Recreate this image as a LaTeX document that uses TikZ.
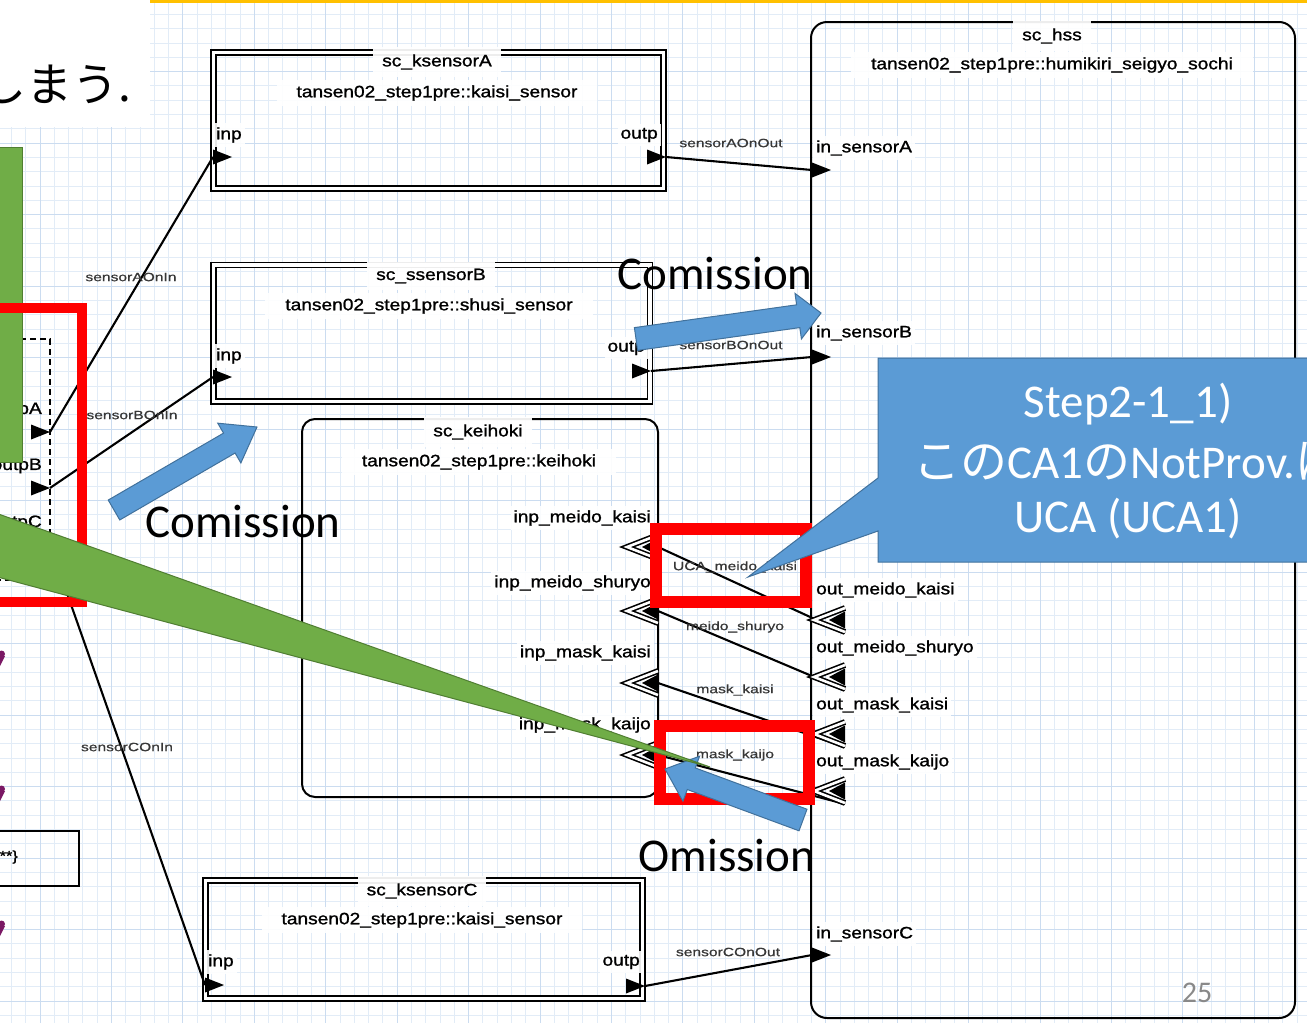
\documentclass[tikz,border=0pt]{standalone}
\usepackage{fontspec}
\setmainfont{Liberation Sans}
\newfontfamily\lblfont[FakeStretch=1.16,FakeBold=1.2]{Liberation Sans}
\newfontfamily\linkfont[FakeStretch=1.3,FakeBold=0.6]{Liberation Sans}
\newfontfamily\slidefont{Carlito}
\newfontfamily\jpfont{Noto Sans CJK JP}
\usetikzlibrary{calc}

\definecolor{gridminor}{RGB}{226,236,247}
\definecolor{gridmajor}{RGB}{203,220,240}
\definecolor{callblue}{RGB}{91,155,213}
\definecolor{callblueedge}{RGB}{65,113,156}
\definecolor{callgreen}{RGB}{112,173,71}
\definecolor{callgreenedge}{RGB}{80,126,50}
\definecolor{markred}{RGB}{255,0,0}
\definecolor{rulegold}{RGB}{255,192,0}
\definecolor{linkgray}{RGB}{55,55,55}
\definecolor{plum}{RGB}{122,24,100}
\definecolor{pagegray}{RGB}{137,137,137}

\tikzset{
  gridfine/.style={draw=gridminor, line width=0.8pt},
  gridbold/.style={draw=gridmajor, line width=0.8pt},
  sensorbox/.style={draw=black, line width=1.8pt, double=white, double distance=3.2pt, inner sep=0pt},
  compbox/.style={draw=black, line width=2pt, rounded corners=13pt, inner sep=0pt},
  boxtitle/.style={font=\lblfont\fontsize{16.5}{18}\selectfont, fill=white, fill opacity=0.93, text opacity=1, inner xsep=9pt, inner ysep=7pt},
  boxtype/.style={boxtitle, inner xsep=20pt, inner ysep=5pt},
  portlbl/.style={font=\lblfont\fontsize{16.5}{18}\selectfont, fill=white, fill opacity=0.9, text opacity=1, inner xsep=3pt, inner ysep=4pt},
  linklbl/.style={font=\linkfont\fontsize{12}{14}\selectfont, text=linkgray, inner sep=1pt},
  wire/.style={draw=black, line width=2.1pt},
  slidetxt/.style={font=\slidefont\fontsize{47}{56}\selectfont, inner sep=0pt},
  calltxt/.style={slidetxt, text=white},
  greenshape/.style={fill=callgreen, draw=callgreenedge, line width=1pt},
  bluearrow/.style={fill=callblue, draw=callblueedge, line width=1pt},
  redframe/.style={draw=markred, line width=11.5pt},
  rtri/.pic={\fill[black] (0,-7.5) -- (19,0) -- (0,7.5) -- cycle;},
  inmark/.pic={
    \draw[black, line width=1.6pt, double=white, double distance=2.6pt] (0,-12) -- (-31,0) -- (0,12);
    \fill[black] (-16,0) -- (0,-8.5) -- (0,8.5) -- cycle;},
}

% block arrow: tail centre, tip, shaft half width, head half width, head length
\newcommand\blockarrow[5]{%
  \coordinate (ba-t) at #1;
  \coordinate (ba-h) at #2;
  \coordinate (ba-b) at ($(ba-h)!#5!(ba-t)$);
  \filldraw[bluearrow] ($(ba-t)!#3!90:(ba-h)$) -- ($(ba-b)!#3!90:(ba-h)$)
    -- ($(ba-b)!#4!90:(ba-h)$) -- (ba-h) -- ($(ba-b)!#4!-90:(ba-h)$)
    -- ($(ba-b)!#3!-90:(ba-h)$) -- ($(ba-t)!#3!-90:(ba-h)$) -- cycle;
}

\begin{document}
\begin{tikzpicture}[x=1pt,y=-1pt]
\useasboundingbox (0,0) rectangle (1307,1023);
\fill[white] (0,0) rectangle (1307,1023);

% squared paper
\foreach \i in {0,...,90} \draw[gridfine] ({11.43+\i*14.2857},0) -- ++(0,1023);
\foreach \j in {0,...,71} \draw[gridfine] (0,{\j*14.3}) -- ++(1307,0);
\foreach \i in {0,...,18} \draw[gridbold] ({40+\i*71.43},0) -- ++(0,1023);
\foreach \j in {0,...,14} \draw[gridbold] (0,{\j*71.5}) -- ++(1307,0);

% slide text panel and top rule
\fill[white] (0,0) rectangle (150,127);
\node[font=\jpfont\fontsize{46}{52}\selectfont, anchor=east, inner sep=0pt] (tailtext) at (131,84) {しまう.};
\fill[rulegold] (150,0) rectangle (1307,3);

% enclosing module on the left (dashed)
\draw[black, line width=1.4pt, dash pattern=on 6pt off 4pt] (-10,339) -- (50,339) -- (50,580) -- (-10,580);
\coordinate (dA) at (50,432);
\coordinate (dB) at (50,488);
\coordinate (dC) at (50,545);
\node[portlbl, fill=none, anchor=east] (lblpA) at (45,410) {outpA};
\node[portlbl, fill=none, anchor=east] (lblpB) at (45,466) {outpB};
\node[portlbl, fill=none, anchor=east] (lblpC) at (45,523) {outpC};

% small box at lower left
\draw[black, line width=1.8pt] (-10,831) rectangle (79,886);
\node[font=\lblfont\fontsize{14}{16}\selectfont, anchor=east, inner sep=0pt] (bracetxt) at (18,857) {**\}};
\foreach \y in {657,792,927} {
  \fill[plum] (1.5,\y-3) circle[radius=3.5];
  \fill[plum] (-3,\y-1) -- (5,\y-1) -- (0,\y+9) -- cycle;
}

% component boxes
\node[sensorbox, minimum width=450pt, minimum height=136pt] (ksA) at (438.5,120.5) {};
\node[sensorbox, minimum width=436.7pt, minimum height=136.7pt] (ssB) at (431.7,333.4) {};
\node[sensorbox, minimum width=437pt, minimum height=118pt] (ksC) at (424,939.5) {};
\node[compbox, minimum width=356pt, minimum height=378pt] (kei) at (480,608) {};
\node[compbox, minimum width=484pt, minimum height=996pt, rounded corners=16pt] (hss) at (1053,520) {};

% ports
\coordinate (kAin) at (213,157);  \coordinate (kAout) at (666,157); \coordinate (hA) at (812,170);
\coordinate (kBin) at (213,377);  \coordinate (kBout) at (651,371); \coordinate (hB) at (812,357);
\coordinate (kCin) at (205,985);  \coordinate (kCout) at (645,986); \coordinate (hC) at (812,955);
\coordinate (ki1) at (658,547); \coordinate (ki2) at (658,611);
\coordinate (ki3) at (658,683); \coordinate (ki4) at (658,755);
\coordinate (ho1) at (845,620); \coordinate (ho2) at (845,677);
\coordinate (ho3) at (845,734); \coordinate (ho4) at (845,791);
\coordinate (he1) at (845,633); \coordinate (he2) at (845,690);
\coordinate (he3) at (845,747); \coordinate (he4) at (845,804);

% connections
\draw[wire] (dA) -- (kAin);
\draw[wire] (dB) -- (kBin);
\draw[wire] (dC) -- (kCin);
\draw[wire] (kAout) -- (hA);
\draw[wire] (kBout) -- (hB);
\draw[wire] (kCout) -- (hC);
\draw[wire] (ki1) -- (he1);
\draw[wire] (ki2) -- (he2);
\draw[wire] (ki3) -- (he3);
\draw[wire] (ki4) -- (he4);

% port marks
\pic at (31,432) {rtri};
\pic at (31,488) {rtri};
\pic at (kAin) {rtri};  \pic at (647,157) {rtri}; \pic at (hA) {rtri};
\pic at (kBin) {rtri};  \pic at (632,371) {rtri}; \pic at (hB) {rtri};
\pic at (kCin) {rtri};  \pic at (626,986) {rtri}; \pic at (hC) {rtri};
\foreach \p in {ki1,ki2,ki3,ki4,ho1,ho2,ho3,ho4} \pic at (\p) {inmark};

% box titles
\node[boxtitle] (ksAname) at (437,62) {sc\_ksensorA};
\node[boxtype]  (ksAtype) at (437,93) {tansen02\_step1pre::kaisi\_sensor};
\node[boxtitle] (ssBname) at (431,276) {sc\_ssensorB};
\node[boxtype]  (ssBtype) at (429,306) {tansen02\_step1pre::shusi\_sensor};
\node[boxtitle] (keiname) at (478,432) {sc\_keihoki};
\node[boxtype]  (keitype) at (479,462) {tansen02\_step1pre::keihoki};
\node[boxtitle] (ksCname) at (422,891) {sc\_ksensorC};
\node[boxtype]  (ksCtype) at (422,920) {tansen02\_step1pre::kaisi\_sensor};
\node[boxtitle] (hssname) at (1052,36) {sc\_hss};
\node[boxtype]  (hsstype) at (1052,65) {tansen02\_step1pre::humikiri\_seigyo\_sochi};

% port labels
\node[portlbl, anchor=west] (ksAinl)  at (213,135) {inp};
\node[portlbl, anchor=east] (ksAoutl) at (661,135) {outp};
\node[portlbl, anchor=west] (ssBinl)  at (213,356) {inp};
\node[portlbl, anchor=east] (ssBoutl) at (648,348) {outp};
\node[portlbl, anchor=west] (ksCinl)  at (205,962) {inp};
\node[portlbl, anchor=east] (ksCoutl) at (643,962) {outp};
\node[portlbl, anchor=east] (kei1l) at (654,518) {inp\_meido\_kaisi};
\node[portlbl, anchor=east] (kei2l) at (654,583) {inp\_meido\_shuryo};
\node[portlbl, anchor=east] (kei3l) at (654,653) {inp\_mask\_kaisi};
\node[portlbl, anchor=east] (kei4l) at (654,725) {inp\_mask\_kaijo};
\node[portlbl, anchor=west] (hssAl) at (813,148) {in\_sensorA};
\node[portlbl, anchor=west] (hssBl) at (813,333) {in\_sensorB};
\node[portlbl, anchor=west] (hss1l) at (813,590) {out\_meido\_kaisi};
\node[portlbl, anchor=west] (hss2l) at (813,648) {out\_meido\_shuryo};
\node[portlbl, anchor=west] (hss3l) at (813,705) {out\_mask\_kaisi};
\node[portlbl, anchor=west] (hss4l) at (813,762) {out\_mask\_kaijo};
\node[portlbl, anchor=west] (hssCl) at (813,934) {in\_sensorC};

% connection labels
\node[linklbl] (wAout) at (731,143) {sensorAOnOut};
\node[linklbl] (wBout) at (731,345) {sensorBOnOut};
\node[linklbl] (wCout) at (728,952) {sensorCOnOut};
\node[linklbl] (wAin)  at (131,277) {sensorAOnIn};
\node[linklbl] (wBin)  at (132,415) {sensorBOnIn};
\node[linklbl] (wCin)  at (127,747) {sensorCOnIn};
\node[linklbl] (w1) at (735,567) {UCA\_meido\_kaisi};
\node[linklbl] (w2) at (735,627) {meido\_shuryo};
\node[linklbl] (w3) at (735,690) {mask\_kaisi};
\node[linklbl] (w4) at (735,755) {mask\_kaijo};

% green callout body on the left
\filldraw[greenshape] (-10,147) rectangle (22,462);

% red highlight frames
\draw[redframe, line width=10pt] (-20,308) rectangle (82,602);
\draw[redframe] (656,529) rectangle (806,602);
\draw[redframe] (660,726) rectangle (809,799);

% block arrows
\blockarrow{(636,339)}{(821,313)}{11.5pt}{23pt}{23pt}
\blockarrow{(114,510)}{(257,427)}{11.5pt}{23pt}{32pt}
\blockarrow{(803,820)}{(665,769)}{11.5pt}{24pt}{28pt}

\node[slidetxt] (com1) at (715,273) {Comission};
\node[slidetxt] (com2) at (243,521) {Comission};
\node[slidetxt] (omi)  at (727,855) {Omission};

% green callout pointer
\filldraw[greenshape] (-10,511) -- (710,767) -- (-10,575) -- cycle;

% blue callout
\filldraw[bluearrow] (1320,358) -- (878,358) -- (878,478) -- (748,577) -- (878,531)
  -- (878,562) -- (1320,562) -- cycle;
\node[calltxt] (ct1) at (1128,404) {Step2-1\_1)};
\node[calltxt] (ct2) at (1128,461) {{\jpfont この}CA1{\jpfont の}NotProv.{\jpfont は}};
\node[calltxt] (ct3) at (1128,519) {UCA (UCA1)};

% slide number
\node[font=\slidefont\fontsize{30}{36}\selectfont, text=pagegray, inner sep=0pt] (pageno) at (1197,993) {25};
\end{tikzpicture}
\end{document}
